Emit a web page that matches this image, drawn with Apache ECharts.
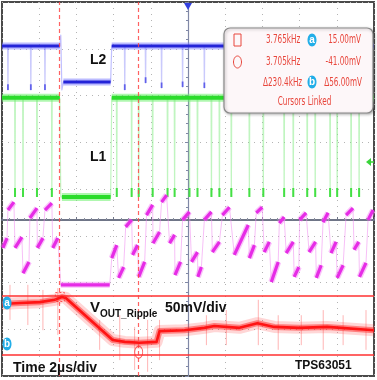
<!DOCTYPE html>
<html>
<head>
<meta charset="utf-8">
<script src="https://cdn.jsdelivr.net/npm/echarts@6/dist/echarts.min.js"></script>
<style>
html, body { margin: 0; padding: 0; background: #fff; }
#chart { width: 377px; height: 380px; }
</style>
</head>
<body>
<div id="chart"></div>
<script>
// x in µs (2 µs/div, 10 div), y in screen divisions (0 = bottom, 8 = top)

// L2 (blue)
const blueLevels = [[0, 3.11, 7.06], [3.30, 5.84, 6.29], [5.90, 20, 7.06]]
const blueTrace = [[0, 7.06], [3.11, 7.06], [3.16, 7.29], [3.22, 6.12], [3.30, 6.29], [5.84, 6.29], [5.90, 7.06], [20, 7.06]]
const blueSpikeT = [0.32, 1.55, 2.31, 6.60, 7.72, 8.58, 9.71, 10.88]
const blueSpikeLow = [6.12, 6.12, 6.12, 6.12, 6.27, 6.16, 6.18, 6.16]

// L1 (green)
const greenLevels = [[0, 3.11, 5.95], [3.22, 5.84, 3.83], [5.90, 20, 5.95]]
const greenTrace = [[0, 5.95], [3.11, 5.95], [3.16, 3.83], [5.84, 3.83], [5.90, 5.95], [20, 5.95]]
const greenSpikeT = [0.70, 1.13, 1.88, 2.68, 6.17, 6.97, 7.35, 8.10, 8.90, 9.28, 10.08, 10.51,
  11.26, 11.69, 12.33, 13.30, 14.05, 15.17, 15.66, 16.41, 16.84, 17.64, 18.02, 18.77, 19.20]
const greenSpikeLow = 3.85

// inductor current (magenta): [tStart, vStart, tEnd, vEnd]
const pinkRamps = [
  [0.05, 2.74, 0.27, 2.95], [0.32, 3.55, 0.64, 3.72], [0.70, 2.74, 1.07, 2.97], [1.13, 2.20, 1.45, 2.44],
  [1.50, 3.38, 1.88, 3.59], [1.90, 2.74, 2.20, 2.95], [2.31, 3.55, 2.68, 3.70], [2.73, 2.74, 3.00, 2.95],
  [3.16, 1.95, 5.79, 1.95],
  [5.90, 2.52, 6.17, 2.80], [6.27, 2.10, 6.54, 2.33], [6.65, 3.19, 6.97, 3.34], [7.02, 2.59, 7.29, 2.80],
  [7.35, 2.12, 7.67, 2.44], [7.77, 3.44, 8.10, 3.66], [8.12, 2.84, 8.47, 3.08], [8.58, 3.72, 8.85, 3.87],
  [9.01, 2.84, 9.28, 3.02], [9.30, 2.16, 9.60, 2.44], [9.71, 3.34, 10.08, 3.51], [10.19, 2.44, 10.51, 2.65],
  [10.53, 2.12, 10.72, 2.33], [10.88, 3.34, 11.26, 3.51], [11.31, 2.65, 11.69, 2.87], [11.85, 3.44, 12.23, 3.61],
  [12.49, 2.59, 13.24, 3.23], [13.30, 2.52, 13.57, 2.80], [13.67, 3.49, 13.99, 3.61], [14.10, 2.65, 14.37, 2.87],
  [14.48, 2.01, 14.85, 2.44], [14.91, 3.27, 15.17, 3.40], [15.28, 2.63, 15.66, 2.87], [15.71, 2.12, 15.96, 2.33],
  [16.00, 3.34, 16.35, 3.49], [16.51, 2.65, 16.86, 2.87], [16.90, 2.10, 17.16, 2.37], [17.26, 3.29, 17.53, 3.49],
  [17.69, 2.63, 17.96, 2.87], [18.02, 2.10, 18.34, 2.37], [18.50, 3.44, 18.87, 3.59], [18.93, 2.70, 19.18, 2.87],
  [19.22, 2.12, 19.57, 2.42], [19.68, 3.34, 19.95, 3.55]
]

// V_OUT ripple (red)
const redT = [0, 0.97, 2.04, 2.84, 3.22, 3.43, 5.95, 6.60, 7.40, 8.31, 8.47, 9.81, 10.88, 11.42, 12.76, 13.73, 14.64, 15.98, 17.48, 20]
const redV = [1.54, 1.56, 1.58, 1.63, 1.69, 1.67, 0.77, 0.73, 0.71, 0.73, 0.96, 0.98, 1.03, 1.07, 1.03, 1.13, 1.05, 1.03, 1.05, 0.98]
const redSpikeT = [0.43, 1.39, 2.20, 3.00, 5.25, 6.33, 7.13, 7.83, 8.47, 10.99, 12.06, 13.78, 14.85, 16.09, 17.27, 18.34, 19.57]
const redSpikeHi = [1.95, 1.95, 1.84, 1.88, 1.20, 1.30, 1.05, 1.20, 1.20, 1.30, 1.41, 1.63, 1.30, 1.30, 1.41, 1.30, 1.41]
const redSpikeLo = [1.20, 1.09, 0.98, 0.88, 0.56, 0.34, 0.13, 0.09, 0.34, 0.66, 0.66, 0.66, 0.56, 0.66, 0.56, 0.66, 0.56]

// cursors
const cursorT = [3.06, 7.35]
const cursorV = [1.71, 0.45]

const FONT = '"Liberation Sans", Arial, sans-serif'
const NARROW = '"Liberation Sans Narrow", "DejaVu Sans Condensed", sans-serif'
const RED_TXT = '#e8463c'
const CYAN = '#22aee8'

function levelData(levels) {
  const out = []
  levels.forEach(l => { out.push([l[0], l[2]], [l[1], l[2]], [l[1], '-']) })
  return out
}
function spikeData(ts, base, lows, w) {
  const out = []
  ts.forEach((t, i) => {
    const lo = Array.isArray(lows) ? lows[i] : lows
    out.push([t - w, base], [t, lo], [t + w, base], [t + w, '-'])
  })
  return out
}
function vlines(ts, hi, lo) {
  const out = []
  ts.forEach((t, i) => {
    const h = Array.isArray(hi) ? hi[i] : hi
    const l = Array.isArray(lo) ? lo[i] : lo
    out.push([t, h], [t, l], [t, '-'])
  })
  return out
}
function line(data, color, width, z) {
  return {
    type: 'line', data, symbol: 'none', silent: true, connectNulls: false,
    lineStyle: { color, width, cap: 'butt', join: 'round' }, z: z || 2
  }
}

const pinkThin = []
const pinkThick = []
pinkRamps.forEach(r => {
  pinkThin.push([r[0], r[1]], [r[2], r[3]])
  pinkThick.push([r[0], r[1]], [r[2], r[3]], [r[2], '-'])
})
const redData = redT.map((t, i) => [t, redV[i]])
const blueTips = blueSpikeLow.map(v => v + 0.12)

function txt(x, y, text, font, color, align, sx) {
  return {
    type: 'text', x, y, scaleX: sx || 1, z: 120,
    style: { text, font, fill: color, align: align || 'left', verticalAlign: 'middle' }
  }
}
function badge(cx, cy, letter) {
  return [
    { type: 'ellipse', shape: { cx, cy, rx: 4.5, ry: 6.5 }, style: { fill: CYAN }, z: 120 },
    txt(cx, cy + 0.5, letter, 'bold 10px ' + FONT, '#fff', 'center')
  ]
}

const myChart = echarts.init(document.getElementById('chart'))
const option = {
  animation: false,
  backgroundColor: '#fff',
  grid: {
    left: 2, top: 2, width: 372, height: 374,
    show: true, borderColor: '#4a4a4a', borderWidth: 2, backgroundColor: 'transparent'
  },
  xAxis: [
    {
      type: 'value', min: 0, max: 20, interval: 2,
      axisLine: { show: false }, axisTick: { show: false }, axisLabel: { show: false },
      splitLine: { show: true, lineStyle: { color: '#b4b4b4', type: [1, 5], width: 1 } }
    },
    {
      // center horizontal reference line
      type: 'value', min: 0, max: 20, interval: 2, position: 'top', offset: -218,
      axisLine: { show: true, lineStyle: { color: '#6f7587', width: 2 } },
      axisTick: { show: true, length: 3, lineStyle: { color: '#6f7587' } },
      minorTick: { show: true, splitNumber: 5, length: 2, lineStyle: { color: '#8a90a0' } },
      axisLabel: { show: false }, splitLine: { show: false }
    }
  ],
  yAxis: [
    {
      type: 'value', min: 0, max: 8, interval: 1,
      axisLine: { show: false }, axisTick: { show: false }, axisLabel: { show: false },
      splitLine: { show: true, lineStyle: { color: '#b4b4b4', type: [1, 5], width: 1 } }
    },
    {
      // center vertical line
      type: 'value', min: 0, max: 8, interval: 1, position: 'left', offset: -186,
      axisLine: { show: true, lineStyle: { color: '#8088a6', width: 1.2 } },
      axisTick: { show: true, length: 3, lineStyle: { color: '#8088a6' } },
      minorTick: { show: true, splitNumber: 5, length: 2, lineStyle: { color: '#8088a6' } },
      axisLabel: { show: false }, splitLine: { show: false }
    }
  ],
  series: [
    // L1 green
    line(greenTrace, 'rgba(120,235,120,0.45)', 1.2, 2),
    line(spikeData(greenSpikeT, 5.95, greenSpikeLow, 0.02), 'rgba(130,235,130,0.5)', 1.2, 2),
    line(vlines(greenSpikeT, 4.02, 3.83), '#44e044', 2, 3),
    line(levelData(greenLevels), 'rgba(110,240,110,0.55)', 8, 3),
    line(levelData(greenLevels), '#2bdc2b', 4, 4),
    // L2 blue
    line(blueTrace, 'rgba(130,130,255,0.5)', 1.2, 2),
    line(spikeData(blueSpikeT, 7.06, blueSpikeLow, 0.02), 'rgba(150,150,250,0.5)', 1.2, 2),
    line(vlines(blueSpikeT, blueTips, blueSpikeLow), 'rgba(60,60,230,0.75)', 1.8, 3),
    line(levelData(blueLevels), 'rgba(120,120,255,0.5)', 7, 3),
    line(levelData(blueLevels), '#2424d8', 3, 4),
    // inductor current magenta
    line(pinkThin, 'rgba(240,140,240,0.55)', 1, 2),
    line(pinkThick, 'rgba(245,120,245,0.45)', 6, 3),
    line(pinkThick, '#e62ce6', 3.2, 4),
    // V_OUT ripple red
    line(vlines(redSpikeT, redSpikeHi, redSpikeLo), 'rgba(255,90,90,0.45)', 1, 3),
    line(redData, 'rgba(255,50,50,0.2)', 12, 3),
    line(redData, 'rgba(255,40,40,0.5)', 6, 4),
    line(redData, '#ff1414', 2.6, 5),
    // cursors
    {
      type: 'line', data: [], silent: true, z: 6,
      markLine: {
        symbol: 'none', silent: true, animation: false,
        label: { show: false },
        data: [
          { yAxis: cursorV[0], lineStyle: { color: '#ff3030', width: 1.5, type: 'solid' } },
          { yAxis: cursorV[1], lineStyle: { color: '#ff3030', width: 1.5, type: 'solid' } },
          { xAxis: cursorT[0], lineStyle: { color: 'rgba(255,70,70,0.85)', width: 1.2, type: [4, 3] } },
          { xAxis: cursorT[1], lineStyle: { color: 'rgba(255,70,70,0.85)', width: 1.2, type: [4, 3] } }
        ]
      }
    },
    {
      type: 'scatter', silent: true, z: 7,
      data: [[cursorT[1], 0.51]], symbol: 'circle', symbolSize: [8, 12],
      itemStyle: { color: 'transparent', borderColor: '#ff3030', borderWidth: 1 }
    },
    {
      type: 'scatter', silent: true, z: 7,
      data: [[cursorT[0] + 0.05, 1.69]], symbol: 'rect', symbolSize: 9,
      itemStyle: { color: 'transparent', borderColor: '#ff3030', borderWidth: 1, borderType: [2, 2] }
    }
  ],
  graphic: [
    // trigger position & channel markers
    { type: 'polygon', shape: { points: [[184, 3], [192, 3], [188, 10]] }, style: { fill: '#3340e0' }, z: 120 },
    { type: 'polygon', shape: { points: [[366, 162], [371, 158], [371, 166]] }, style: { fill: '#3ad43a' }, z: 120 },
    { type: 'line', shape: { x1: 369, y1: 162, x2: 374, y2: 162 }, style: { stroke: '#3ad43a', lineWidth: 1.5 }, z: 120 },
    ...badge(7, 303, 'a'),
    ...badge(7, 344, 'b'),
    // cursor readout box
    {
      type: 'rect', z: 110,
      shape: { x: 224, y: 28, width: 149, height: 85, r: 6 },
      style: {
        fill: '#fdf7f9', stroke: '#8a8a8a', lineWidth: 1.2,
        shadowBlur: 3, shadowColor: 'rgba(0,0,0,0.3)', shadowOffsetX: 1, shadowOffsetY: 1
      }
    },
    { type: 'rect', shape: { x: 234, y: 34, width: 7, height: 12 }, style: { fill: 'none', stroke: RED_TXT, lineWidth: 1 }, z: 120 },
    { type: 'ellipse', shape: { cx: 237.5, cy: 62, rx: 4, ry: 6 }, style: { fill: 'none', stroke: RED_TXT, lineWidth: 1 }, z: 120 },
    txt(266, 40, '3.765kHz', '13px ' + NARROW, RED_TXT, 'left', 0.62),
    txt(266, 62, '3.705kHz', '13px ' + NARROW, RED_TXT, 'left', 0.62),
    txt(263, 83, '\u0394230.4kHz', '13px ' + NARROW, RED_TXT, 'left', 0.62),
    txt(361, 40, '15.00mV', '13px ' + NARROW, RED_TXT, 'right', 0.62),
    txt(361, 62, '-41.00mV', '13px ' + NARROW, RED_TXT, 'right', 0.62),
    txt(362, 83, '\u039456.00mV', '13px ' + NARROW, RED_TXT, 'right', 0.62),
    txt(304.5, 102, 'Cursors Linked', '13px ' + NARROW, RED_TXT, 'center', 0.62),
    ...badge(312, 40, 'a'),
    ...badge(312, 82, 'b'),
    // trace labels
    txt(90, 60, 'L2', 'bold 14px ' + FONT, '#111', 'left'),
    txt(90, 157, 'L1', 'bold 14px ' + FONT, '#111', 'left'),
    txt(90, 308, 'V', 'bold 15px ' + FONT, '#111', 'left'),
    txt(100, 314, 'OUT_Ripple', 'bold 10px ' + FONT, '#111', 'left'),
    txt(165, 308, '50mV/div', 'bold 14px ' + FONT, '#111', 'left'),
    txt(13, 368, 'Time 2\u00b5s/div', 'bold 14px ' + FONT, '#111', 'left'),
    txt(295, 366, 'TPS63051', 'bold 12px ' + FONT, '#111', 'left')
  ]
}
myChart.setOption(option)
</script>
</body>
</html>
